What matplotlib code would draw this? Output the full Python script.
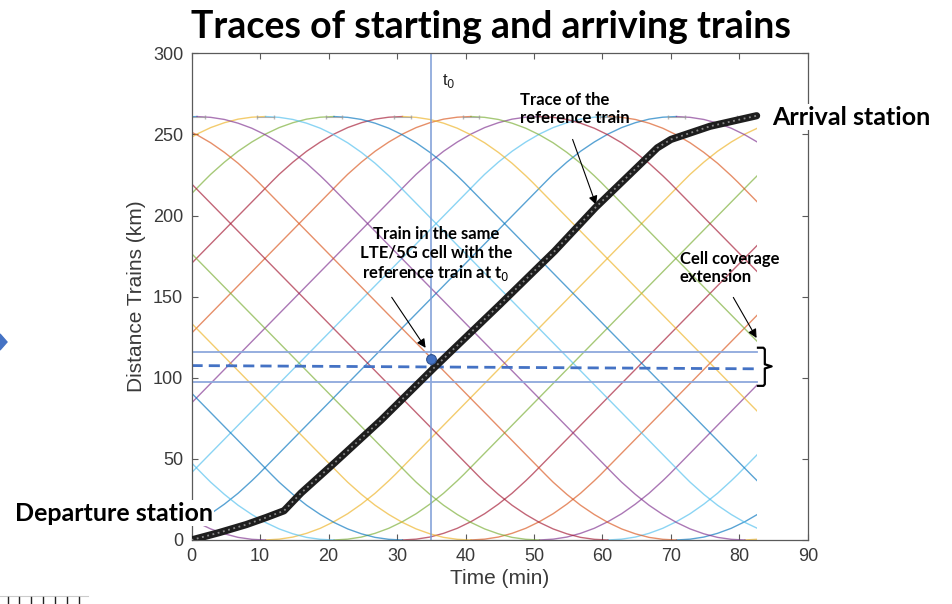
import matplotlib
matplotlib.use("Agg")
import matplotlib.pyplot as plt
from matplotlib.patches import Rectangle, Polygon
from matplotlib.lines import Line2D

# journey profile of the other trains (minutes after departure, km travelled)
profile_min = [0, 2, 4, 6, 8, 10, 12, 14, 16, 18, 19, 61, 62, 64, 66, 68, 70, 72, 74, 76, 78, 80]
profile_km = [0, 0.5, 1.8, 4.1, 7.2, 11.3, 16.2, 22.1, 28.8, 36.5, 40.6, 221.2,
              225.4, 232.9, 239.6, 245.3, 250.2, 254.2, 257.2, 259.4, 260.6, 261]
line_km = 261

# departures from the lower station (up) and from the upper station (down);
# the up slot at ~0.8 min is the reference train itself
up_departures = [-79.2, -69.2, -59.2, -49.2, -39.2, -29.2, -19.2, -9.2,
                 10.8, 20.8, 30.8, 40.8, 50.8, 60.8, 70.8, 80.8]
down_departures = [-79.2, -69.2, -59.2, -49.2, -39.2, -29.2, -19.2, -9.2, 0.8,
                   10.8, 20.8, 30.8, 40.8, 50.8, 60.8, 70.8, 80.8]

# reference train
ref_min = [0, 4, 8, 11, 13.5, 16, 21, 27.7, 35.5, 45, 53, 59, 68, 70, 75.7, 82.5]
ref_km = [0, 4.5, 9.5, 14, 18, 29, 48, 74, 106.5, 145, 178, 205, 241.7, 246.9, 255, 261.5]

sim_end = 82.5
t0 = 35
cell_low, cell_high = 97.5, 116
cell_mid_start, cell_mid_end = 107.5, 105.5
same_cell_train = (34.9, 111.7)

matlab_colors = ["#0072BD", "#D95319", "#EDB120", "#7E2F8E", "#77AC30", "#4DBEEE", "#A2142F"]

fig = plt.figure(figsize=(9.52, 6.04), dpi=100)
ax = fig.add_axes([0.2012, 0.106, 0.6475, 0.8058])

clip = Rectangle((0, -10), sim_end, 330, transform=ax.transData)

c = 0
for up in up_departures:
    l, = ax.plot([up + m for m in profile_min], profile_km,
                 color=matlab_colors[c % 7], lw=1.0, alpha=0.65)
    l.set_clip_path(clip)
    c += 2
c = 1
for down in down_departures:
    l, = ax.plot([down + m for m in profile_min], [line_km - k for k in profile_km],
                 color=matlab_colors[c % 7], lw=1.0, alpha=0.65)
    l.set_clip_path(clip)
    c += 2

# little dwell marks at the upper station
for dep in down_departures:
    if 0 <= dep <= sim_end:
        ax.plot([dep - 1.2, dep + 1.2], [line_km, line_km], color="#9a9a9a", lw=0.8,
                marker="|", ms=3, alpha=0.7)

# cell coverage band and t0
ax.axvline(t0, color="#7b9bd6", lw=1.1)
ax.plot([0, sim_end], [cell_high, cell_high], color="#8ea8dc", lw=1.3)
ax.plot([0, sim_end], [cell_low, cell_low], color="#8ea8dc", lw=1.3)
ax.plot([0, sim_end], [cell_mid_start, cell_mid_end], color="#4472C4", lw=2,
        dashes=(4, 2.2))

# reference train trace
ax.plot(ref_min, ref_km, color="#1e1e1e", lw=5.2, solid_capstyle="round", zorder=5)
ax.plot(ref_min, ref_km, color="#8c8c8c", lw=1.3, ls=(0, (1, 2)), zorder=6)

ax.plot(*same_cell_train, "o", ms=7, color="#4472C4", mec="#2f528f", mew=0.8, zorder=7)

ax.set_xlim(0, 90)
ax.set_ylim(0, 300)
ax.set_xticks(range(0, 91, 10))
ax.set_yticks(range(0, 301, 50))
for s in ax.spines.values():
    s.set_color("#5a5a5a")
    s.set_linewidth(0.9)
ax.tick_params(direction="in", top=True, right=True, length=4, color="#5a5a5a",
               labelsize=13, labelcolor="#3a3a3a", pad=6)
for lab in ax.get_xticklabels() + ax.get_yticklabels():
    lab.set_fontfamily("Liberation Sans")
ax.set_xlabel("Time (min)", fontsize=15, color="#3a3a3a", family="Liberation Sans", labelpad=3)
ax.set_ylabel("Distance Trains (km)", fontsize=15, color="#3a3a3a", family="Liberation Sans",
              labelpad=5)

bold = dict(family="Lato", weight="bold", color="black")

fig.text(0.516, 0.956, "Traces of starting and arriving trains", ha="center", va="center",
         fontsize=27, **bold)

ax.text(36.5, 283, "t$_0$", fontsize=12, family="Liberation Sans", color="#222222",
        va="center", ha="left")

ax.text(48.0, 265.5, "Trace of the\nreference train", fontsize=12, ha="left", va="center",
        linespacing=1.15, **bold)
ax.annotate("", xy=(59.2, 205), xytext=(55.5, 248.5),
            arrowprops=dict(arrowstyle="-|>", color="black", lw=0.8, mutation_scale=13))

ax.text(35.7, 176, "Train in the same\nLTE/5G cell with the\nreference train at t$_0$",
        fontsize=12, ha="center", va="center", multialignment="center", linespacing=1.15,
        **bold)
ax.annotate("", xy=(34.4, 117), xytext=(29.0, 151),
            arrowprops=dict(arrowstyle="-|>", color="black", lw=0.8, mutation_scale=13))

ax.text(71.3, 167.4, "Cell coverage\nextension", fontsize=12, ha="left", va="center",
        linespacing=1.15, **bold)
ax.annotate("", xy=(82.7, 123), xytext=(78.9, 151),
            arrowprops=dict(arrowstyle="-|>", color="black", lw=0.8, mutation_scale=13))

# curly bracket for the cell extension
ax.plot([82.7, 83.5, 83.7, 83.7, 84.7, 83.7, 83.7, 83.5, 82.7],
        [118.5, 118.5, 117.5, 108.3, 107, 105.7, 96.0, 95.0, 95.0],
        color="black", lw=1.6, clip_on=False, zorder=8)

ax.text(84.7, 260.5, "Arrival station", fontsize=18, ha="left", va="center",
        bbox=dict(fc="white", ec="none", pad=1), zorder=10, clip_on=False, **bold)
ax.text(-25.8, 16.6, "Departure station", fontsize=18, ha="left", va="center",
        bbox=dict(fc="white", ec="none", pad=1), zorder=10, clip_on=False, **bold)

# slide fragments at the edges
W, H = 952.0, 604.0
fig.add_artist(Polygon([(0, 1 - 334 / H), (7 / W, 1 - 342 / H), (0, 1 - 350 / H)],
                       closed=True, transform=fig.transFigure, color="#4472C4"))
fig.add_artist(Line2D([0, 88 / W], [1 - 596 / H, 1 - 596 / H], transform=fig.transFigure,
                      color="#cccccc", lw=0.8))
for x in [8, 19, 31, 43, 55, 67, 79]:
    fig.add_artist(Line2D([x / W, x / W], [1 - 597 / H, 0], transform=fig.transFigure,
                          color="#222222", lw=1.0))

fig.savefig("out.png", dpi=100)
